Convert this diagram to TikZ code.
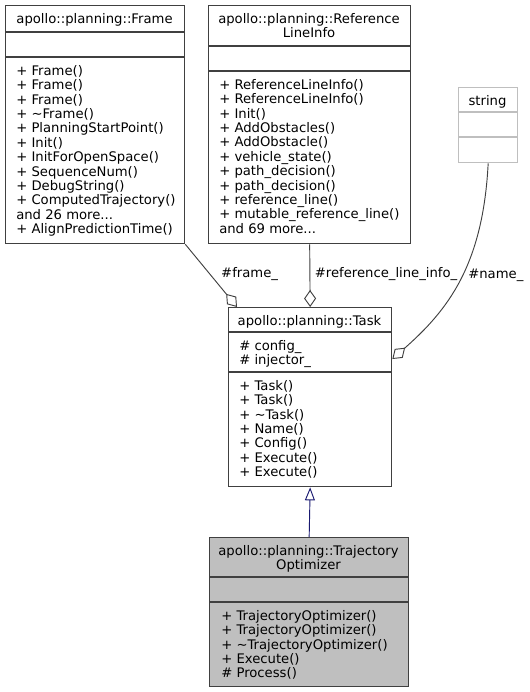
\documentclass[tikz,border=0pt]{standalone}
\usepackage{fontspec}
\setmainfont{DejaVu Sans}
\usetikzlibrary{arrows.meta}
\definecolor{edgegray}{HTML}{404040}
\definecolor{doxyblue}{HTML}{191970}
\definecolor{fillgray}{HTML}{BFBFBF}
\begin{document}
\begin{tikzpicture}[x=0.75pt,y=-0.75pt,font=\fontsize{9.9}{10.8}\selectfont,
  box/.style={draw=edgegray,line width=1pt,anchor=north west},
  ttl/.style={anchor=north,align=center,inner sep=0pt},
  txt/.style={anchor=north west,align=left,inner sep=0pt},
  lbl/.style={text=black},
  agg/.style={edgegray,line width=0.7pt,-{Diamond[open,length=12.75pt,width=9pt]}},
  inh/.style={doxyblue,line width=0.7pt,-{Triangle[open,length=9.75pt,width=7.5pt]}}]
\useasboundingbox (0,0) rectangle (529,692);
% class boxes
\node[box,minimum width=134.25pt,minimum height=178.5pt] (frame) at (5,5) {};
\draw[edgegray,line width=1pt] (5,32)--(184,32) (5,57)--(184,57);
\node[box,minimum width=151.5pt,minimum height=178.5pt] (ref) at (208,5) {};
\draw[edgegray,line width=1pt] (208,46)--(410,46) (208,71)--(410,71);
\node[box,draw=fillgray,minimum width=44.25pt,minimum height=56.25pt] (str) at (458,87) {};
\draw[fillgray,line width=1pt] (458,112)--(517,112) (458,137)--(517,137);
\node[box,minimum width=122.25pt,minimum height=134.25pt] (task) at (228,307) {};
\draw[edgegray,line width=1pt] (228,332)--(391,332) (228,372)--(391,372);
\node[box,fill=fillgray,minimum width=149.25pt,minimum height=111.75pt] (traj) at (209,537) {};
\draw[edgegray,line width=1pt] (209,577)--(408,577) (209,602)--(408,602);
% texts
\node[ttl] (frameT) at (94.5,13) {apollo::planning::Frame};
\node[txt] (frameM) at (16,65) {+ Frame()\\+ Frame()\\+ Frame()\\+ \textasciitilde Frame()\\+ PlanningStartPoint()\\+ Init()\\+ InitForOpenSpace()\\+ SequenceNum()\\+ DebugString()\\+ ComputedTrajectory()\\and 26 more...\\+ AlignPredictionTime()};
\node[ttl] (refT) at (309,13) {apollo::planning::Reference\\LineInfo};
\node[txt] (refM) at (219,79) {+ ReferenceLineInfo()\\+ ReferenceLineInfo()\\+ Init()\\+ AddObstacles()\\+ AddObstacle()\\+ vehicle\_state()\\+ path\_decision()\\+ path\_decision()\\+ reference\_line()\\+ mutable\_reference\_line()\\and 69 more...};
\node[ttl] (strT) at (487.5,95) {string};
\node[ttl] (taskT) at (309.5,315) {apollo::planning::Task};
\node[txt] (taskA) at (239,340) {\# config\_\\\# injector\_};
\node[txt] (taskM) at (239,380) {+ Task()\\+ Task()\\+ \textasciitilde Task()\\+ Name()\\+ Config()\\+ Execute()\\+ Execute()};
\node[ttl] (trajT) at (308.5,545) {apollo::planning::Trajectory\\Optimizer};
\node[txt] (trajM) at (221,610) {+ TrajectoryOptimizer()\\+ TrajectoryOptimizer()\\+ \textasciitilde TrajectoryOptimizer()\\+ Execute()\\\# Process()};
% relations
\draw[agg] (frame.south east) -- ([xshift=6.75pt]task.north west) node[lbl,pos=.47,right=5pt] (frameL) {\#frame\_};
\draw[agg] (ref.south) -- (task.north) node[lbl,pos=.47,right] (refL) {\#reference\_line\_info\_};
\draw[agg] (str.south) .. controls (483,265) and (448,310) .. ([yshift=-39pt]task.north east) node[lbl,pos=.47,right=1pt] (strL) {\#name\_};
\draw[inh] (traj.north) -- (task.south);
\end{tikzpicture}
\end{document}
